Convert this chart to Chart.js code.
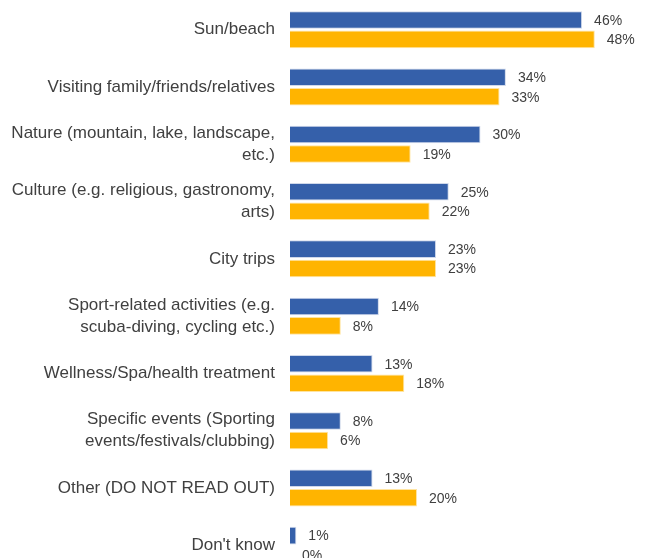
<!DOCTYPE html>
<html lang="en">
<head>
  <meta charset="UTF-8" />
  <title>Holiday types</title>
  <script src="https://cdn.jsdelivr.net/npm/chart.js"></script>
  <style>
    * { box-sizing: border-box; margin: 0; padding: 0; }
    html, body { width: 671px; height: 558px; overflow: hidden; background: #fff; }
    .wrap { position: relative; width: 671px; height: 574px; }
  </style>
</head>
<body>
  <div class="wrap"><canvas id="chart"></canvas></div>

  <script>
    const categories = [
      'Sun/beach',
      'Visiting family/friends/relatives',
      ['Nature (mountain, lake, landscape,', 'etc.)'],
      ['Culture (e.g. religious, gastronomy,', 'arts)'],
      'City trips',
      ['Sport-related activities (e.g.', 'scuba-diving, cycling etc.)'],
      'Wellness/Spa/health treatment',
      ['Specific events (Sporting', 'events/festivals/clubbing)'],
      'Other (DO NOT READ OUT)',
      "Don't know"
    ];
    const seriesBlue = [46, 34, 30, 25, 23, 14, 13, 8, 13, 1];
    const seriesOrange = [48, 33, 19, 22, 23, 8, 18, 6, 20, 0];

    // value labels to the right of each bar
    const valueLabels = {
      id: 'valueLabels',
      afterDatasetsDraw(chart) {
        const ctx = chart.ctx;
        ctx.save();
        ctx.font = '14px "Liberation Sans", Arial, sans-serif';
        ctx.fillStyle = '#404040';
        ctx.textBaseline = 'middle';
        ctx.textAlign = 'left';
        chart.data.datasets.forEach((ds, i) => {
          chart.getDatasetMeta(i).data.forEach((bar, j) => {
            ctx.fillText(ds.data[j] + '%', bar.x + 12, bar.y + 1);
          });
        });
        ctx.restore();
      }
    };

    new Chart(document.getElementById('chart'), {
      type: 'bar',
      data: {
        labels: categories,
        datasets: [
          {
            data: seriesBlue,
            backgroundColor: '#3560AA',
            borderColor: '#cfd8ea',
            borderWidth: 1,
            categoryPercentage: 0.68,
            barPercentage: 0.9
          },
          {
            data: seriesOrange,
            backgroundColor: '#FFB400',
            borderColor: '#ffe4a0',
            borderWidth: 1,
            categoryPercentage: 0.68,
            barPercentage: 0.9
          }
        ]
      },
      options: {
        indexAxis: 'y',
        responsive: true,
        maintainAspectRatio: false,
        animation: false,
        layout: { padding: { top: 1, right: 0, bottom: 0, left: 0 } },
        plugins: {
          legend: { display: false },
          tooltip: { enabled: false }
        },
        scales: {
          x: {
            display: false,
            min: 0,
            max: 60
          },
          y: {
            grid: { display: false, drawTicks: false },
            border: { display: false },
            ticks: {
              color: '#404040',
              padding: 15,
              font: { family: '"Liberation Sans", Arial, sans-serif', size: 17, lineHeight: 1.3 }
            },
            afterFit(scale) {
              scale.width = 290;
              scale.paddingTop = 0;
              scale.paddingBottom = 0;
            }
          }
        }
      },
      plugins: [valueLabels]
    });
  </script>
</body>
</html>
